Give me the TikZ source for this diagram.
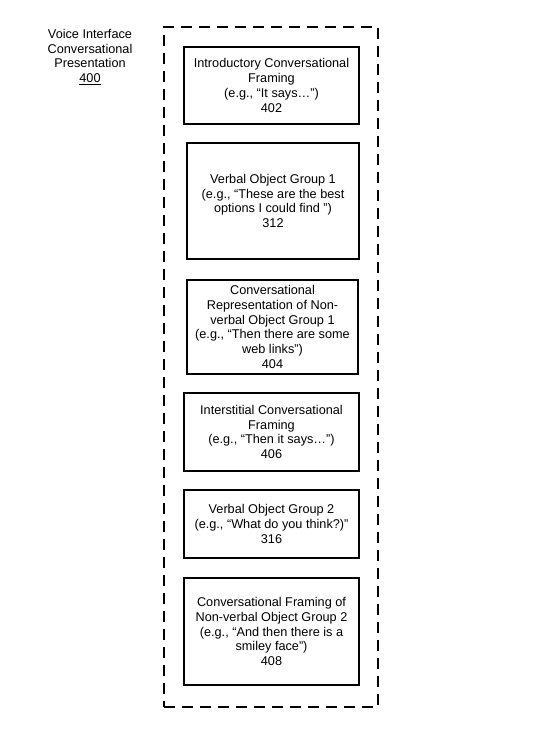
\documentclass[tikz,border=0pt]{standalone}
\usepackage{fontspec}
\setmainfont{Liberation Sans}
\tikzset{
    part/.style={draw, line width=1.1pt, align=center, inner sep=2pt,
        minimum width=175pt, font=\fontsize{12.7}{14.8}\selectfont},
    container/.style={draw, line width=1.5pt, dash pattern=on 11pt off 7pt,
        minimum width=214pt, minimum height=680pt}
}
\begin{document}
\begin{tikzpicture}[x=1pt, y=1pt]
    \useasboundingbox (0,0) rectangle (536,-732);
    \node[align=center, font=\fontsize{12.7}{14.8}\selectfont] (title) at (90,-57)
        {Voice Interface\\Conversational\\Presentation\\\underline{400}};
    \node[container] (pres) at (271,-367) {};
    \node[part, minimum height=77pt] (intro) at (271.5,-85.5)
        {Introductory Conversational\\Framing\\(e.g., “It says…”)\\402};
    \node[part, minimum width=172pt, minimum height=116pt] (verbal1) at (273,-201)
        {Verbal Object Group 1\\(e.g., “These are the best\\options I could find ”)\\312};
    \node[part, minimum width=171pt, minimum height=94pt] (nonverbal1) at (272.5,-327)
        {Conversational\\Representation of Non-\\verbal Object Group 1\\(e.g., “Then there are some\\web links”)\\404};
    \node[part, minimum height=78pt] (inter) at (271.5,-432)
        {Interstitial Conversational\\Framing\\(e.g., “Then it says…”)\\406};
    \node[part, minimum height=68pt] (verbal2) at (271.5,-524)
        {Verbal Object Group 2\\(e.g., “What do you think?)”\\316};
    \node[part, minimum height=107pt] (nonverbal2) at (271.5,-631.5)
        {Conversational Framing of\\Non-verbal Object Group 2\\(e.g., “And then there is a\\smiley face”)\\408};
\end{tikzpicture}
\end{document}
